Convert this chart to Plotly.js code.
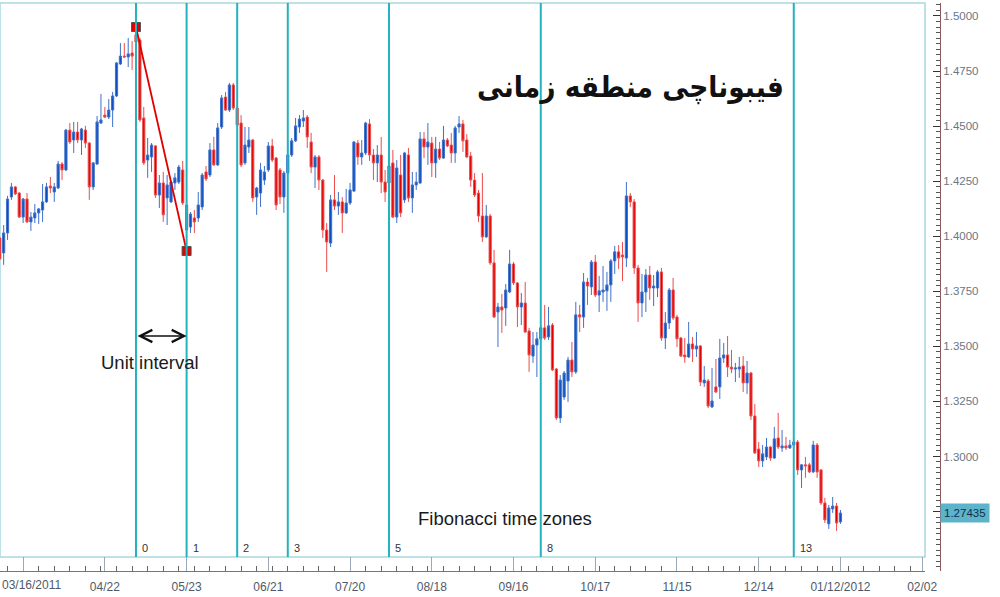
<!DOCTYPE html>
<html>
<head>
<meta charset="utf-8">
<script src="https://cdn.plot.ly/plotly-3.0.1.min.js"></script>
<style>html,body{margin:0;padding:0;background:#fff;}#chart{width:1000px;height:597px;}</style>
</head>
<body>
<div id="chart"></div>
<script>
// Daily candles (EUR/USD)
const open = [1.3992,1.3924,1.4015,1.4178,1.4224,1.4196,1.4087,1.4169,1.4065,1.4083,1.4106,1.4119,1.4156,1.4228,1.4201,1.4219,1.4328,1.4301,1.4482,1.4437,
1.4473,1.4437,1.4482,1.4423,1.4224,1.4328,1.4514,1.4550,1.4541,1.4573,1.4637,1.4782,1.4818,1.4814,1.4832,1.4914,1.4891,1.4537,1.4346,1.4360,
1.4410,1.4187,1.4242,1.4174,1.4156,1.4242,1.4246,1.4301,1.4142,1.4042,1.4083,1.4083,1.4133,1.4292,1.4278,1.4392,1.4324,1.4496,1.4632,1.4573,
1.4687,1.4582,1.4514,1.4333,1.4405,1.4437,1.4178,1.4196,1.4255,1.4301,1.4410,1.4355,1.4301,1.4178,1.4287,1.4369,1.4433,1.4496,1.4523,1.4541,
1.4428,1.4314,1.4360,1.4255,1.4028,1.3969,1.4165,1.4137,1.4156,1.4106,1.4151,1.4205,1.4423,1.4360,1.4378,1.4510,1.4369,1.4333,1.4369,1.4246,
1.4242,1.4333,1.4087,1.4278,1.4165,1.4369,1.4174,1.4233,1.4242,1.4442,1.4405,1.4423,1.4333,1.4396,1.4355,1.4437,1.4414,1.4378,1.4496,1.4510,
1.4437,1.4364,1.4255,1.4196,1.4092,1.3997,1.4092,1.3879,1.3656,1.3679,1.3674,1.3747,1.3874,1.3788,1.3679,1.3697,1.3570,1.3456,1.3506,1.3534,
1.3584,1.3543,1.3597,1.3397,1.3175,1.3270,1.3343,1.3438,1.3384,1.3643,1.3633,1.3792,1.3770,1.3883,1.3733,1.3747,1.3752,1.3779,1.3888,1.3929,
1.3915,1.3901,1.4183,1.4156,1.3856,1.3697,1.3747,1.3824,1.3765,1.3765,1.3838,1.3538,1.3606,1.3756,1.3633,1.3538,1.3461,1.3452,1.3511,1.3488,
1.3502,1.3334,1.3343,1.3225,1.3316,1.3316,1.3447,1.3461,1.3406,1.3397,1.3397,1.3411,1.3334,1.3379,1.3184,1.3034,1.2980,1.2998,1.3043,1.2993,
1.3084,1.3039,1.3048,1.3039,1.3052,1.3066,1.2939,1.2962,1.2962,1.2930,1.3052,1.2939,1.2789,1.2694,1.2762,1.2775,1.2703];
const high = [1.3997,1.4051,1.4183,1.4242,1.4228,1.4201,1.4174,1.4196,1.4110,1.4146,1.4128,1.4237,1.4242,1.4269,1.4242,1.4342,1.4337,1.4487,1.4514,1.4519,
1.4519,1.4492,1.4501,1.4428,1.4337,1.4546,1.4646,1.4587,1.4623,1.4655,1.4791,1.4877,1.4877,1.4900,1.4886,1.4950,1.4900,1.4587,1.4446,1.4423,
1.4414,1.4278,1.4292,1.4278,1.4251,1.4287,1.4324,1.4342,1.4165,1.4110,1.4119,1.4201,1.4287,1.4319,1.4423,1.4451,1.4514,1.4641,1.4655,1.4696,
1.4696,1.4596,1.4550,1.4496,1.4496,1.4442,1.4224,1.4333,1.4319,1.4428,1.4442,1.4360,1.4310,1.4296,1.4437,1.4446,1.4537,1.4550,1.4573,1.4550,
1.4469,1.4369,1.4369,1.4260,1.4060,1.4187,1.4278,1.4201,1.4178,1.4215,1.4242,1.4433,1.4437,1.4437,1.4519,1.4532,1.4396,1.4414,1.4451,1.4301,
1.4324,1.4392,1.4346,1.4369,1.4383,1.4401,1.4292,1.4292,1.4473,1.4473,1.4514,1.4451,1.4451,1.4428,1.4501,1.4446,1.4469,1.4501,1.4546,1.4528,
1.4464,1.4383,1.4287,1.4210,1.4287,1.4142,1.4101,1.3938,1.3697,1.3738,1.3783,1.3938,1.3883,1.3792,1.3742,1.3792,1.3584,1.3565,1.3565,1.3597,
1.3688,1.3679,1.3606,1.3402,1.3370,1.3388,1.3452,1.3520,1.3702,1.3688,1.3833,1.3811,1.3892,1.3915,1.3820,1.3865,1.3838,1.3897,1.3956,1.3960,
1.3974,1.4246,1.4196,1.4169,1.3870,1.3829,1.3851,1.3865,1.3824,1.3847,1.3856,1.3656,1.3765,1.3811,1.3643,1.3543,1.3538,1.3611,1.3543,1.3565,
1.3506,1.3411,1.3352,1.3402,1.3443,1.3534,1.3515,1.3547,1.3484,1.3425,1.3452,1.3456,1.3434,1.3384,1.3238,1.3066,1.3052,1.3084,1.3048,1.3134,
1.3198,1.3120,1.3089,1.3075,1.3084,1.3075,1.2966,1.2998,1.2971,1.3071,1.3061,1.2943,1.2812,1.2780,1.2816,1.2789,1.2757];
const low = [1.3892,1.3870,1.3983,1.4165,1.4187,1.4083,1.4060,1.4060,1.4024,1.4060,1.4056,1.4065,1.4151,1.4196,1.4156,1.4215,1.4255,1.4296,1.4419,1.4378,
1.4423,1.4369,1.4401,1.4165,1.4210,1.4324,1.4510,1.4537,1.4532,1.4496,1.4632,1.4778,1.4809,1.4768,1.4755,1.4868,1.4519,1.4324,1.4265,1.4292,
1.4174,1.4128,1.4065,1.4051,1.4151,1.4210,1.4237,1.4142,1.3933,1.4015,1.4015,1.4065,1.4119,1.4251,1.4269,1.4319,1.4319,1.4487,1.4569,1.4564,
1.4573,1.4496,1.4314,1.4324,1.4378,1.4156,1.4097,1.4133,1.4233,1.4292,1.4337,1.4119,1.4146,1.4106,1.4278,1.4360,1.4428,1.4469,1.4496,1.4401,
1.4287,1.4219,1.4210,1.3992,1.3838,1.3951,1.4119,1.4097,1.4015,1.4101,1.4142,1.4201,1.4324,1.4324,1.4369,1.4342,1.4255,1.4246,1.4196,1.4156,
1.4233,1.4083,1.4060,1.4087,1.4151,1.4156,1.4106,1.4210,1.4237,1.4355,1.4324,1.4269,1.4265,1.4346,1.4351,1.4405,1.4333,1.4333,1.4469,1.4383,
1.4355,1.4224,1.4178,1.4065,1.3974,1.3992,1.3870,1.3629,1.3497,1.3561,1.3593,1.3742,1.3779,1.3588,1.3597,1.3561,1.3384,1.3425,1.3361,1.3529,
1.3529,1.3529,1.3388,1.3166,1.3152,1.3257,1.3248,1.3361,1.3375,1.3565,1.3584,1.3688,1.3733,1.3724,1.3656,1.3702,1.3661,1.3702,1.3829,1.3851,
1.3797,1.3860,1.4133,1.3829,1.3611,1.3633,1.3656,1.3711,1.3683,1.3724,1.3525,1.3488,1.3579,1.3620,1.3497,1.3452,1.3425,1.3447,1.3429,1.3452,
1.3320,1.3316,1.3220,1.3220,1.3288,1.3261,1.3425,1.3361,1.3379,1.3338,1.3357,1.3293,1.3284,1.3166,1.3012,1.2952,1.2952,1.2984,1.2980,1.2989,
1.3034,1.3021,1.3030,1.3034,1.3034,1.2916,1.2857,1.2903,1.2925,1.2925,1.2903,1.2780,1.2698,1.2671,1.2744,1.2662,1.2694];
const close = [1.3897,1.4015,1.4169,1.4224,1.4192,1.4087,1.4169,1.4065,1.4087,1.4106,1.4124,1.4156,1.4224,1.4219,1.4224,1.4328,1.4301,1.4482,1.4428,1.4473,
1.4437,1.4487,1.4423,1.4224,1.4333,1.4519,1.4528,1.4541,1.4573,1.4637,1.4787,1.4818,1.4814,1.4828,1.4818,1.4882,1.4528,1.4333,1.4369,1.4414,
1.4187,1.4242,1.4097,1.4233,1.4246,1.4265,1.4314,1.4151,1.4028,1.4101,1.4065,1.4142,1.4278,1.4260,1.4392,1.4324,1.4492,1.4628,1.4573,1.4687,
1.4582,1.4505,1.4324,1.4414,1.4437,1.4174,1.4219,1.4301,1.4292,1.4410,1.4346,1.4142,1.4178,1.4287,1.4369,1.4433,1.4501,1.4532,1.4537,1.4451,
1.4314,1.4360,1.4255,1.4028,1.3974,1.4165,1.4137,1.4156,1.4106,1.4151,1.4210,1.4428,1.4360,1.4378,1.4514,1.4369,1.4333,1.4369,1.4246,1.4201,
1.4319,1.4087,1.4310,1.4106,1.4378,1.4174,1.4233,1.4246,1.4442,1.4405,1.4428,1.4333,1.4396,1.4355,1.4437,1.4410,1.4378,1.4492,1.4510,1.4433,
1.4360,1.4255,1.4187,1.4092,1.3997,1.4092,1.3879,1.3633,1.3679,1.3665,1.3756,1.3874,1.3788,1.3679,1.3697,1.3565,1.3461,1.3506,1.3534,1.3584,
1.3538,1.3593,1.3393,1.3175,1.3347,1.3379,1.3438,1.3384,1.3643,1.3633,1.3792,1.3774,1.3883,1.3733,1.3752,1.3756,1.3779,1.3888,1.3929,1.3901,
1.3906,1.4183,1.4156,1.3856,1.3697,1.3747,1.3824,1.3765,1.3774,1.3838,1.3538,1.3606,1.3756,1.3629,1.3534,1.3456,1.3452,1.3511,1.3488,1.3502,
1.3338,1.3347,1.3229,1.3252,1.3293,1.3447,1.3461,1.3406,1.3397,1.3402,1.3406,1.3334,1.3379,1.3184,1.3016,1.2980,1.3012,1.3043,1.2993,1.3080,
1.3043,1.3048,1.3039,1.3052,1.3066,1.2939,1.2962,1.2957,1.2930,1.3052,1.2930,1.2789,1.2712,1.2766,1.2775,1.2698,1.27435];

// Date labels on the bar-sequence axis (the first one is drawn flush with the left edge)
const tickIdx = [6,27,48,69,90,111,132,153,174,195,216,237];
const tickLbl = ["03/16/2011","04/22","05/23","06/21","07/20","08/18","09/16","10/17","11/15","12/14","01/12/2012","02/02"];

// Price axis labels (1.2750 is hidden under the last-price tag)
const yTickVals = [1.275,1.300,1.325,1.350,1.375,1.400,1.425,1.450,1.475,1.500];
const yTickText = ["","1.3000","1.3250","1.3500","1.3750","1.4000","1.4250","1.4500","1.4750","1.5000"];

// Fibonacci time zones (bar index of each zone line) and their labels
const fibIdx = [35,48,61,74,100,139,204];
const fibLbl = ["0","1","2","3","5","8","13"];

// Swing high -> swing low used for the unit interval
const swingIdx = [35,48];
const swingVal = [high[35], low[48]];

const lastPrice = close[close.length-1];
const idx = open.map((_, i) => i);

const PLOT_TOP_FRAC = 1, PLOT_BOT_FRAC = 14/568, XDOM = 925/940;
const TICKFONT = {family:'Liberation Sans, Arial', size:12, color:'#4f5a68'};

const traces = [
  {
    type:'candlestick', x: idx, open: open, high: high, low: low, close: close,
    increasing:{line:{color:'#3f70c8', width:1}, fillcolor:'#0c4fc2'},
    decreasing:{line:{color:'#ec4c4c', width:1}, fillcolor:'#e00000'},
    whiskerwidth:0, hoverinfo:'skip', showlegend:false
  },
  {
    type:'scatter', mode:'lines+markers', x: swingIdx, y: swingVal,
    line:{color:'#e00000', width:1.8},
    marker:{symbol:'square', size:9, color:'#e00000', line:{color:'#555', width:1}},
    hoverinfo:'skip', showlegend:false
  }
];

const shapes = [
  {type:'rect', xref:'paper', yref:'paper', x0:0, x1:XDOM, y0:PLOT_BOT_FRAC, y1:PLOT_TOP_FRAC,
   line:{color:'#a9d6df', width:1.5}, layer:'below'}
];
fibIdx.forEach(v => shapes.push({type:'line', xref:'x', yref:'paper', x0:v, x1:v, y0:PLOT_BOT_FRAC, y1:1,
  line:{color:'#22b3bf', width:2}, layer:'above'}));

const annotations = [];
fibIdx.forEach((v,k) => annotations.push({xref:'x', yref:'paper', x:v, y:0.04, xanchor:'left', yanchor:'middle',
  xshift:4, text:fibLbl[k], showarrow:false, font:{family:'Liberation Sans, Arial', size:11, color:'#333'}}));

// first date label, kept inside the picture
annotations.push({xref:'paper', yref:'paper', x:0, y:-14/568, xanchor:'left', yanchor:'middle',
  text:tickLbl[0], showarrow:false, font:TICKFONT});

annotations.push({xref:'x', yref:'y', axref:'x', ayref:'y', x:swingIdx[1], y:1.3547, ax:swingIdx[0], ay:1.3547,
  text:'', showarrow:true, arrowside:'end+start', arrowhead:5, startarrowhead:5, arrowsize:1.6, startarrowsize:1.6,
  arrowwidth:1.5, arrowcolor:'#111'});
annotations.push({xref:'paper', yref:'paper', x:150/940, y:(571-362)/568, xanchor:'center', yanchor:'middle',
  text:'Unit interval', showarrow:false, font:{family:'Liberation Sans, Arial', size:18.5, color:'#1a1a1a'}});
annotations.push({xref:'paper', yref:'paper', x:505/940, y:(571-518)/568, xanchor:'center', yanchor:'middle',
  text:'Fibonacci time zones', showarrow:false, font:{family:'Liberation Sans, Arial', size:18.5, color:'#1a1a1a'}});
annotations.push({xref:'paper', yref:'paper', x:630/940, y:(571-88)/568, xanchor:'center', yanchor:'middle',
  text:'<b>فیبوناچی منطقه زمانی</b>', showarrow:false,
  font:{family:'DejaVu Sans Condensed, DejaVu Sans', size:29.5, color:'#111'}});
annotations.push({xref:'paper', yref:'y', x:1, y:lastPrice, xanchor:'left', yanchor:'middle', xshift:0,
  text:lastPrice.toFixed(5), showarrow:false, bgcolor:'#5db4ca', borderpad:3,
  font:{family:'Liberation Sans, Arial', size:11.5, color:'#10304a'}});

const layout = {
  width:1000, height:597,
  margin:{l:0, r:60, t:3, b:26},
  paper_bgcolor:'#ffffff', plot_bgcolor:'#ffffff',
  boxgap:0.2,
  showlegend:false,
  xaxis:{
    domain:[0, XDOM], range:[0.06, 237.72], type:'linear',
    rangeslider:{visible:false}, showgrid:false, zeroline:false,
    showline:true, linecolor:'#777', linewidth:1,
    tickmode:'array', tickvals:tickIdx, ticktext:[''].concat(tickLbl.slice(1)),
    ticks:'inside', ticklen:14, tickcolor:'#9ab', tickwidth:1,
    ticklabelstandoff:5,
    minor:{ticks:'inside', ticklen:5, tickcolor:'#666', tickmode:'linear', tick0:6, dtick:4},
    tickfont:TICKFONT,
    fixedrange:true
  },
  yaxis:{
    domain:[0,1], range:[1.2480, 1.5059], side:'right', anchor:'free', position:1,
    showgrid:false, zeroline:false, showline:true, linecolor:'#8a5a5a', linewidth:1,
    tickmode:'array', tickvals:yTickVals, ticktext:yTickText,
    ticks:'inside', ticklen:7, tickcolor:'#333', tickwidth:1,
    minor:{ticks:'inside', ticklen:4, tickcolor:'#555', tickmode:'linear', tick0:1.5, dtick:0.0025},
    tickfont:{family:'Liberation Sans, Arial', size:11.5, color:'#6b7685'},
    fixedrange:true
  },
  shapes:shapes,
  annotations:annotations
};

Plotly.newPlot('chart', traces, layout, {staticPlot:true, displayModeBar:false});
</script>
</body>
</html>
